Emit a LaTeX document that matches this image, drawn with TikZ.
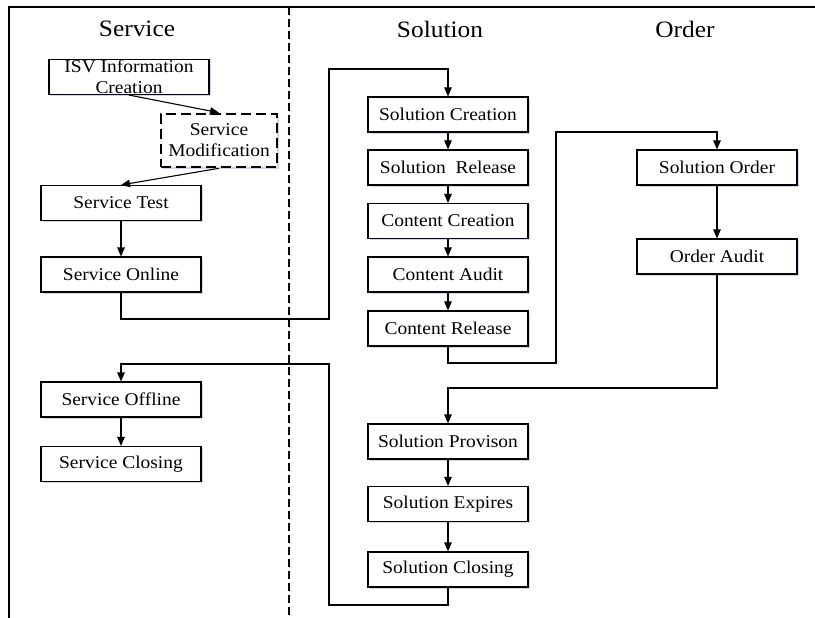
\documentclass[tikz,border=0pt]{standalone}
\usepackage{fontspec}
\setmainfont[FakeStretch=1.08]{Liberation Serif}
\usetikzlibrary{arrows.meta,shadows}
\tikzset{
  box/.style={draw, line width=1.1pt, fill=white, minimum width=160pt, minimum height=35pt,
    inner sep=0pt, align=center, font=\fontsize{18}{21}\selectfont,
    drop shadow={shadow xshift=1.6pt, shadow yshift=-1.6pt, fill=blue!35!gray, opacity=0.25}},
  modbox/.style={box, dash pattern=on 10pt off 5pt, line width=2.6pt, minimum width=116pt, minimum height=53pt},
  heading/.style={font=\fontsize{23.5}{26}\selectfont, inner sep=0pt},
  arr/.style={line width=1.1pt, -{Triangle[length=9pt,width=7.5pt]}},
  lane/.style={line width=1.1pt},
}
\begin{document}
\begin{tikzpicture}[x=1pt, y=-1pt]
\useasboundingbox (0,0) rectangle (815,618);
% lane frame and divider
\draw[lane] (9,618) -- (9,7) -- (815,7);
\draw[lane, dash pattern=on 8pt off 4pt] (289,7) -- (289,618);
% lane titles
\node[heading] (hservice) at (137,29) {Service};
\node[heading] (hsolution) at (440,29) {Solution};
\node[heading] (horder) at (685,29) {Order};
% service lane
\node[box] (isv) at (129,77) {ISV Information\\Creation};
\node[modbox] (smod) at (219,140.5) {Service\\Modification};
\node[box] (stest) at (121,203) {Service Test};
\node[box] (sonline) at (121,274.5) {Service Online};
\node[box] (soffline) at (121,399.5) {Service Offline};
\node[box] (sclosing) at (121,464) {Service Closing};
% solution lane
\node[box] (screate) at (448,114.5) {Solution Creation};
\node[box] (srelease) at (448,167.5) {Solution\ \ Release};
\node[box] (ccreate) at (448,221) {Content Creation};
\node[box] (caudit) at (448,274.5) {Content Audit};
\node[box] (crelease) at (448,328.5) {Content Release};
\node[box] (sprov) at (448,441.5) {Solution Provison};
\node[box] (sexp) at (448,504) {Solution Expires};
\node[box] (sclose) at (448,569.5) {Solution Closing};
% order lane
\node[box] (sorder) at (717,167.5) {Solution Order};
\node[box] (oaudit) at (717,256.5) {Order Audit};
% flow
\draw[arr] (isv.south) -- (smod.north);
\draw[arr] (smod.south) -- (stest.north);
\draw[arr] (stest) -- (sonline);
\draw[arr] (sonline.south) -- (121,319) -| (329,69) -| (screate.north);
\draw[arr] (screate) -- (srelease);
\draw[arr] (srelease) -- (ccreate);
\draw[arr] (ccreate) -- (caudit);
\draw[arr] (caudit) -- (crelease);
\draw[arr] (crelease.south) -- (448,363) -| (556,132) -| (sorder.north);
\draw[arr] (sorder) -- (oaudit);
\draw[arr] (oaudit.south) -- (717,388) -| (sprov.north);
\draw[arr] (sprov) -- (sexp);
\draw[arr] (sexp) -- (sclose);
\draw[arr] (sclose.south) -- (448,605) -| (329,364) -| (soffline.north);
\draw[arr] (soffline) -- (sclosing);
\end{tikzpicture}
\end{document}
